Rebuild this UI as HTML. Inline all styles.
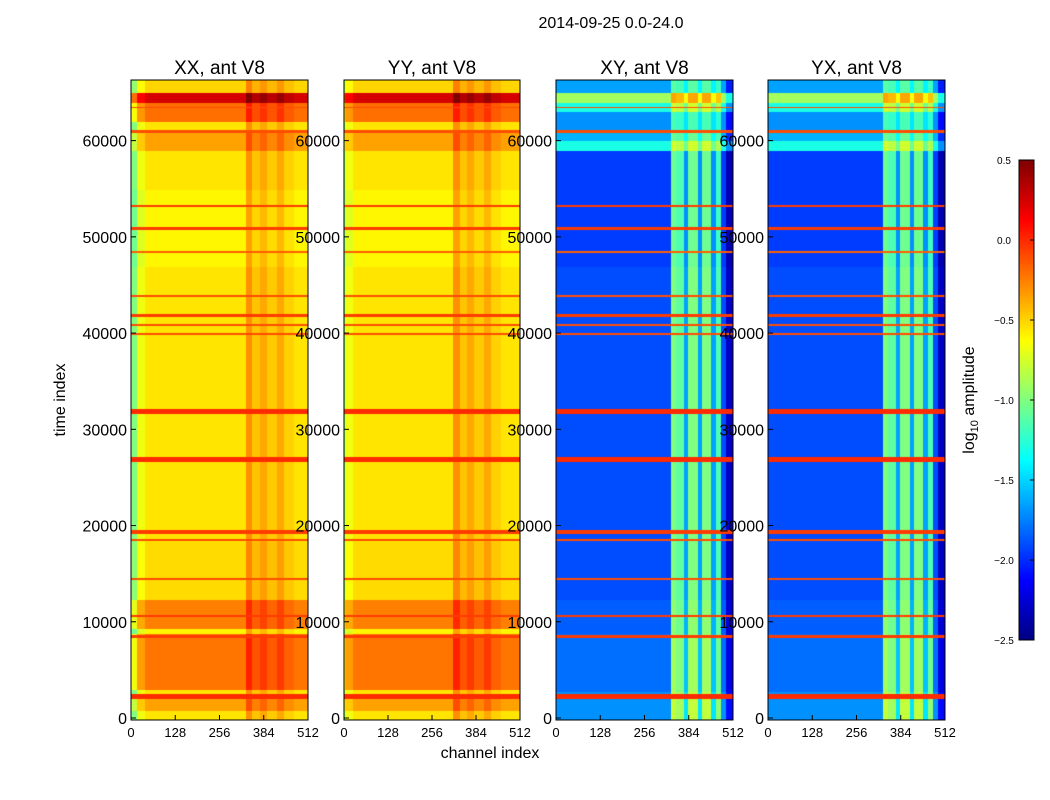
<!DOCTYPE html>
<html><head><meta charset="utf-8">
<style>
body{margin:0;background:#fff;width:1050px;height:800px;overflow:hidden;font-family:"Liberation Sans",sans-serif;}
svg text{font-family:"Liberation Sans",sans-serif;}
canvas{position:absolute;}
</style></head><body>
<div id="root" style="position:relative;width:1050px;height:800px;">
<canvas id="c0" width="177" height="640" style="left:131px;top:80px"></canvas>
<canvas id="c1" width="176" height="640" style="left:344px;top:80px"></canvas>
<canvas id="c2" width="177" height="640" style="left:556px;top:80px"></canvas>
<canvas id="c3" width="177" height="640" style="left:768px;top:80px"></canvas>
<canvas id="cb" width="15" height="480" style="left:1019px;top:160px"></canvas>
<svg id="ov" width="1050" height="800" style="position:absolute;left:0;top:0"></svg>
</div>
<script>
// ---- data ----
const vmin=-2.5, vmax=0.5, tMax=66300, nChan=512;
const titles=["XX, ant V8","YY, ant V8","XY, ant V8","YX, ant V8"];
const yTicks=[0,10000,20000,30000,40000,50000,60000];
const xTicks=[0,128,256,384,512];
const cbTicks=[0.5,0.0,-0.5,-1.0,-1.5,-2.0,-2.5];
// parallel-hand time segments [start,end,value]
const parSegStart=[0,1000,2700,3200,9000,9500,12500,18500,47000,55000,59000,61000,62000,64000,65000];
const parSegEnd  =[1000,2300,3200,9000,9500,12500,18500,47000,55000,59000,61000,62000,64000,65000,66300];
const parSegVal  =[-0.55,-0.35,-0.55,-0.22,-0.6,-0.25,-0.52,-0.55,-0.6,-0.55,-0.35,-0.55,-0.2,0.25,-0.5];
const parChanStart=[0,16,40,330,350,372,392,420,440,470];
const parChanEnd  =[16,40,330,350,372,392,420,440,470,512];
const parChanOff  =[-0.45,-0.12,0,0.25,0.1,0.18,0.08,0.18,0.06,0];
// cross-hand
const crsSegStart=[0,3000,9000,12500,47000,59000,60000,61000,63000,64000,65000];
const crsSegEnd  =[3000,9000,12500,47000,59000,60000,61000,63000,64000,65000,66300];
const crsSegVal  =[-1.7,-1.8,-1.85,-1.9,-1.95,-1.3,-1.6,-1.7,-1.3,-0.9,-1.65];
const crsChanStart=[0,330,345,368,380,410,422,448,460,476,490];
const crsChanEnd  =[330,345,368,380,410,422,448,460,476,490,512];
const crsChanOff  =[0,0.9,0.8,0.25,0.9,0.25,0.9,0.25,0.75,0.0,-0.4];
// flagged stripes (time, value)
const stripeT=[2500,8700,10800,14700,18700,19500,27000,32000,40000,41000,42000,44000,48500,51000,53300,61000,63500];
const stripeV=[0.0,-0.05,-0.05,-0.1,-0.1,-0.05,0.0,0.0,-0.1,-0.1,-0.05,-0.1,-0.15,-0.05,-0.05,-0.1,-0.1];
const stripeW=[500,300,200,200,300,400,500,500,200,200,300,200,200,300,300,300,200];

function jet(v){let t=(v-vmin)/(vmax-vmin);t=Math.max(0,Math.min(1,t));
 const r=Math.min(4*t-1.5,-4*t+4.5),g=Math.min(4*t-0.5,-4*t+3.5),b=Math.min(4*t+0.5,-4*t+2.5);
 const c=x=>Math.round(255*Math.max(0,Math.min(1,x)));return [c(r),c(g),c(b)];}
function lookup(s,e,v,x){for(let i=0;i<s.length;i++)if(x>=s[i]&&x<e[i])return v[i];return v[v.length-1];}
function draw(id,cross,shift){const cv=document.getElementById(id),ctx=cv.getContext('2d');
 const W=cv.width,H=cv.height,img=ctx.createImageData(W,H);
 for(let py=0;py<H;py++){const t=(H-py)/H*tMax;
  let base=cross?lookup(crsSegStart,crsSegEnd,crsSegVal,t):lookup(parSegStart,parSegEnd,parSegVal,t);
  let sv=null;for(let k=0;k<stripeT.length;k++)if(Math.abs(t-stripeT[k])<stripeW[k]/2)sv=stripeV[k];
  for(let px=0;px<W;px++){const ch=px/W*nChan-shift;
   let off=cross?lookup(crsChanStart,crsChanEnd,crsChanOff,ch):lookup(parChanStart,parChanEnd,parChanOff,ch);
   if(cross&&t>59000&&off>0.5)off=off*0.6;
   let v=sv!==null?sv:base+off;
   const [r,g,b]=jet(v);const o=(py*W+px)*4;img.data[o]=r;img.data[o+1]=g;img.data[o+2]=b;img.data[o+3]=255;}}
 ctx.putImageData(img,0,0);}
draw('c0',false,0);draw('c1',false,-15);draw('c2',true,0);draw('c3',true,0);
(function(){const cv=document.getElementById('cb'),ctx=cv.getContext('2d');
 for(let py=0;py<480;py++){const v=vmax-(py/480)*(vmax-vmin);const [r,g,b]=jet(v);ctx.fillStyle=`rgb(${r},${g},${b})`;ctx.fillRect(0,py,15,1);}})();
// ---- overlay ----
const ov=document.getElementById('ov'),NS='http://www.w3.org/2000/svg';
function mk(tag,at,txt){const e=document.createElementNS(NS,tag);for(const k in at)e.setAttribute(k,at[k]);if(txt!==undefined)e.textContent=txt;ov.appendChild(e);return e;}
const px0=[131,344,556,768],pw=[177,176,177,177],pTop=80,pBot=720;
const yS=t=>pBot-2-t*(638/tMax);
const t1=mk('text',{x:611,y:28,'font-size':16,'text-anchor':'middle'},'2014-09-25 0.0-24.0');


for(let p=0;p<4;p++){const x0=px0[p],w=pw[p];
 const fr=mk('rect',{x:x0,y:pTop,width:w,height:pBot-pTop,fill:'none',stroke:'#000','stroke-width':1});
 
 
 const tt=mk('text',{x:x0+w/2,y:74,'font-size':19,'text-anchor':'middle'},titles[p]);
 
 
 for(const v of yTicks){const y=yS(v);
  mk('line',{x1:x0,x2:x0+5,y1:y,y2:y,stroke:'#000'});
  const l=mk('text',{x:x0-4,y:y+6,'font-size':16,'text-anchor':'end'},String(v));
  
  }
 for(const v of xTicks){const x=x0+v/nChan*w;
  mk('line',{x1:x,x2:x,y1:pBot,y2:pBot-5,stroke:'#000'});
  const l=mk('text',{x:x,y:737,'font-size':13,'text-anchor':'middle'},String(v));
  
  }}
const xl=mk('text',{x:490,y:758,'font-size':16,'text-anchor':'middle'},'channel index');


const yl=mk('text',{x:0,y:0,'font-size':16,'text-anchor':'middle',transform:'translate(65,400) rotate(-90)'},'time index');


const cbf=mk('rect',{x:1019,y:160,width:15,height:480,fill:'none',stroke:'#000'});


for(const v of cbTicks){const y=160+(vmax-v)/(vmax-vmin)*480;
 mk('line',{x1:1030,x2:1034,y1:y,y2:y,stroke:'#000'});
 const l=mk('text',{x:1004,y:y+4,'font-size':10,'text-anchor':'middle'},(v<0?'\u2212':'')+Math.abs(v).toFixed(1));
 
 }
const cl=mk('text',{x:0,y:0,'font-size':16,'text-anchor':'middle',transform:'translate(974,400) rotate(-90)'});


cl.innerHTML='log<tspan font-size="11" dy="4">10</tspan><tspan dy="-4"> amplitude</tspan>';
</script>
</body></html>
